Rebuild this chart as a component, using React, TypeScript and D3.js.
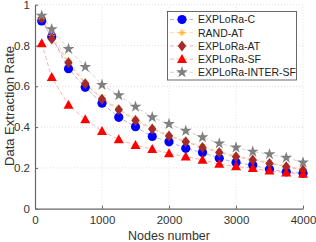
import React, {useEffect, useRef} from 'react';
import * as d3 from 'd3';

const nodes = [100, 250, 500, 750, 1000, 1250, 1500, 1750, 2000, 2250, 2500, 2750, 3000, 3250, 3500, 3750, 4000];

const explora_c = [0.92, 0.843, 0.686, 0.595, 0.517, 0.448, 0.402, 0.354, 0.328, 0.296, 0.275, 0.247, 0.226, 0.214, 0.193, 0.181, 0.174];
const rand_at = [0.93, 0.85, 0.725, 0.62, 0.545, 0.49, 0.44, 0.395, 0.36, 0.333, 0.305, 0.28, 0.26, 0.243, 0.226, 0.21, 0.195];
const explora_at = [0.933, 0.832, 0.716, 0.612, 0.537, 0.485, 0.432, 0.391, 0.356, 0.328, 0.3, 0.275, 0.255, 0.239, 0.222, 0.206, 0.19];
const explora_sf = [0.81, 0.644, 0.508, 0.437, 0.38, 0.34, 0.311, 0.292, 0.271, 0.255, 0.239, 0.219, 0.207, 0.198, 0.186, 0.176, 0.17];
const inter_sf = [0.946, 0.88, 0.783, 0.695, 0.607, 0.556, 0.5, 0.448, 0.415, 0.382, 0.35, 0.32, 0.3, 0.28, 0.267, 0.25, 0.227];

const xTicks = [0, 1000, 2000, 3000, 4000];
const yTicks = [0, 0.2, 0.4, 0.6, 0.8, 1];

const series = [
    { name: 'EXPLoRa-C', values: explora_c, color: '#0000ff', line: '#9a9aff', marker: 'circle' },
    { name: 'RAND-AT', values: rand_at, color: '#ffb020', line: '#ffd08a', marker: 'asterisk' },
    { name: 'EXPLoRa-AT', values: explora_at, color: '#a52a2a', line: '#dba0a0', marker: 'diamond' },
    { name: 'EXPLoRa-SF', values: explora_sf, color: '#ff0000', line: '#ff9a9a', marker: 'triangle' },
    { name: 'EXPLoRa-INTER-SF', values: inter_sf, color: '#808080', line: '#c8c8c8', marker: 'star' },
];

const FONT = 'Liberation Sans, Arial, sans-serif';

function drawMarker(g: any, kind: string, x: number, y: number, color: string) {
    if (kind === 'circle') {
        g.append('circle').attr('cx', x).attr('cy', y).attr('r', 4.6).attr('fill', color);
    } else if (kind === 'diamond') {
        g.append('path').attr('d', `M${x},${y - 5.5}L${x + 4.2},${y}L${x},${y + 5.5}L${x - 4.2},${y}Z`).attr('fill', color);
    } else if (kind === 'triangle') {
        g.append('path').attr('d', `M${x},${y - 5.2}L${x + 5},${y + 3.8}L${x - 5},${y + 3.8}Z`).attr('fill', color);
    } else if (kind === 'star') {
        g.append('path').attr('d', d3.symbol(d3.symbolStar, 44)()).attr('transform', `translate(${x},${y})`).attr('fill', color);
    } else {
        const r = 3.5;
        for (let i = 0; i < 4; i++) {
            const a = (i * Math.PI) / 4;
            g.append('line')
                .attr('x1', x - r * Math.cos(a)).attr('y1', y - r * Math.sin(a))
                .attr('x2', x + r * Math.cos(a)).attr('y2', y + r * Math.sin(a))
                .attr('stroke', color).attr('stroke-width', 1);
        }
    }
}

const App: React.FC = () => {
    const ref = useRef<SVGSVGElement>(null);
    useEffect(() => {
        const svg = d3.select(ref.current);
        svg.selectAll('*').remove();
        const xScale = d3.scaleLinear().domain([0, 4000]).range([35, 303]);
        const yScale = d3.scaleLinear().domain([0, 1]).range([208.7, 4.7]);

        const grid = svg.append('g');
        xTicks.filter((t) => t > 0).forEach((t) => {
            grid.append('line').attr('x1', xScale(t)).attr('x2', xScale(t)).attr('y1', yScale(0)).attr('y2', yScale(1))
                .attr('stroke', '#d8d8d8').attr('stroke-width', 0.8).attr('stroke-dasharray', '1,2');
        });
        yTicks.filter((t) => t > 0).forEach((t) => {
            grid.append('line').attr('x1', xScale(0)).attr('x2', xScale(4000)).attr('y1', yScale(t)).attr('y2', yScale(t))
                .attr('stroke', '#d8d8d8').attr('stroke-width', 0.8).attr('stroke-dasharray', '1,2');
        });

        const line = d3.line<number>().x((_, i) => xScale(nodes[i])).y((d) => yScale(d));
        series.forEach((s) => {
            svg.append('path').attr('d', line(s.values)).attr('fill', 'none')
                .attr('stroke', s.line).attr('stroke-width', 0.8).attr('stroke-dasharray', '4,2.5');
        });
        series.forEach((s) => {
            const g = svg.append('g');
            s.values.forEach((v, i) => drawMarker(g, s.marker, xScale(nodes[i]), yScale(v), s.color));
        });

        const xAxis = svg.append('g').attr('transform', `translate(0,${yScale(0)})`)
            .call(d3.axisBottom(xScale).tickValues(xTicks).tickSizeInner(-3).tickSizeOuter(0).tickPadding(7).tickFormat(d3.format('d')));
        const yAxis = svg.append('g').attr('transform', `translate(${xScale(0)},0)`)
            .call(d3.axisLeft(yScale).tickValues(yTicks).tickSizeInner(-3).tickSizeOuter(0).tickPadding(5).tickFormat((d: any) => String(d)));
        [xAxis, yAxis].forEach((a) => {
            a.select('.domain').attr('stroke', '#666').attr('stroke-width', 1.2);
            a.selectAll('.tick line').attr('stroke', '#666');
            a.selectAll('.tick text').attr('fill', '#333').attr('font-size', 11.5).attr('font-family', FONT);
        });

        svg.append('text').attr('x', 169).attr('y', 239.5).attr('text-anchor', 'middle')
            .attr('font-size', 12.5).attr('font-family', FONT).attr('fill', '#333').text('Nodes number');
        svg.append('text').attr('transform', 'translate(14,106) rotate(-90)').attr('text-anchor', 'middle')
            .attr('font-size', 13).attr('font-family', FONT).attr('fill', '#333').text('Data Extraction Rate');

        const lg = svg.append('g');
        lg.append('rect').attr('x', 167.5).attr('y', 11.5).attr('width', 129).attr('height', 68.5)
            .attr('fill', 'white').attr('stroke', '#444').attr('stroke-width', 0.8);
        series.forEach((s, i) => {
            const y = 19.5 + i * 13.2;
            lg.append('line').attr('x1', 170).attr('x2', 193).attr('y1', y).attr('y2', y)
                .attr('stroke', s.line).attr('stroke-width', 0.8).attr('stroke-dasharray', '4,2.5');
            drawMarker(lg, s.marker, 182, y, s.color);
            lg.append('text').attr('x', 198).attr('y', y + 3.8).attr('font-size', 10.5)
                .attr('font-family', FONT).attr('fill', '#222').text(s.name);
        });
    }, []);

    return <svg ref={ref} width={316} height={242} style={{position: 'absolute', left: 0, top: 0}} />;
};

export default App;
